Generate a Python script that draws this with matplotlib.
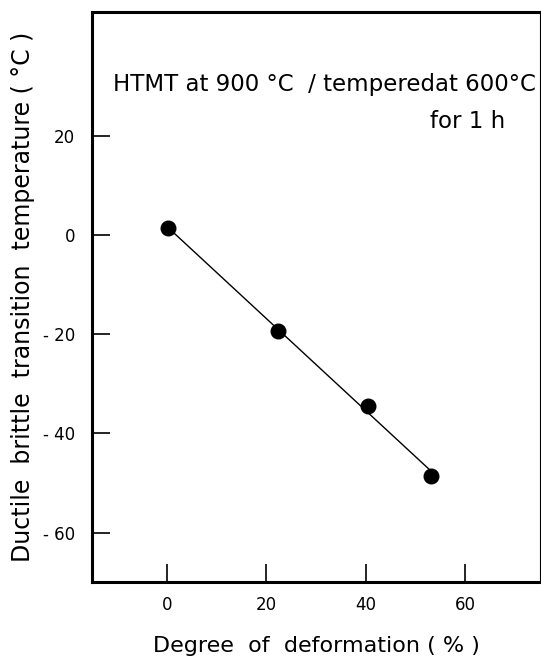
"""Ductile-brittle transition temperature vs degree of deformation (HTMT)."""

import matplotlib

matplotlib.use("Agg")

import matplotlib.pyplot as plt
import numpy as np

# data
deformation = [0.2, 22.3, 40.5, 53.2]          # %
transition_temp = [1.5, -19.4, -34.4, -48.6]   # deg C

x_ticks = [0, 20, 40, 60]
y_ticks = [20, 0, -20, -40, -60]
y_tick_labels = ["20", "0", "- 20", "- 40", "- 60"]

plt.rcParams["font.family"] = ["DejaVu Sans"]

fig = plt.figure(figsize=(5.41, 6.6), dpi=100)
ax = fig.add_axes([0.170, 0.118, 0.828, 0.864])

# straight fitted line through the points
k, b = np.polyfit(deformation, transition_temp, 1)
xl = np.array([deformation[0], deformation[-1]])
ax.plot(xl, k * xl + b, color="black", linewidth=1.0, zorder=2)
ax.scatter(deformation, transition_temp, s=110, color="black", zorder=3)

ax.set_xlim(-15, 75)
ax.set_ylim(-70, 45)
ax.set_xticks(x_ticks)
ax.set_yticks(y_ticks)
ax.set_yticklabels(y_tick_labels)
ax.tick_params(direction="in", length=13, width=1.2, labelsize=12, pad=12)
ax.tick_params(axis="x", pad=10)

for side in ("left", "top", "bottom"):
    ax.spines[side].set_linewidth(2.2)
ax.spines["right"].set_linewidth(0.8)

ax.text(0.518, 0.872, "HTMT at 900 °C  / temperedat 600°C",
        transform=ax.transAxes, ha="center", va="center", fontsize=16.5)
ax.text(0.922, 0.807, "for 1 h", transform=ax.transAxes,
        ha="right", va="center", fontsize=16.5)

ax.set_xlabel("Degree  of  deformation ( % )", fontsize=16, labelpad=16)
ax.set_ylabel("Ductile  brittle  transition  temperature ( °C )",
              fontsize=17, labelpad=6)

fig.savefig("out.png", dpi=100)
plt.close(fig)
